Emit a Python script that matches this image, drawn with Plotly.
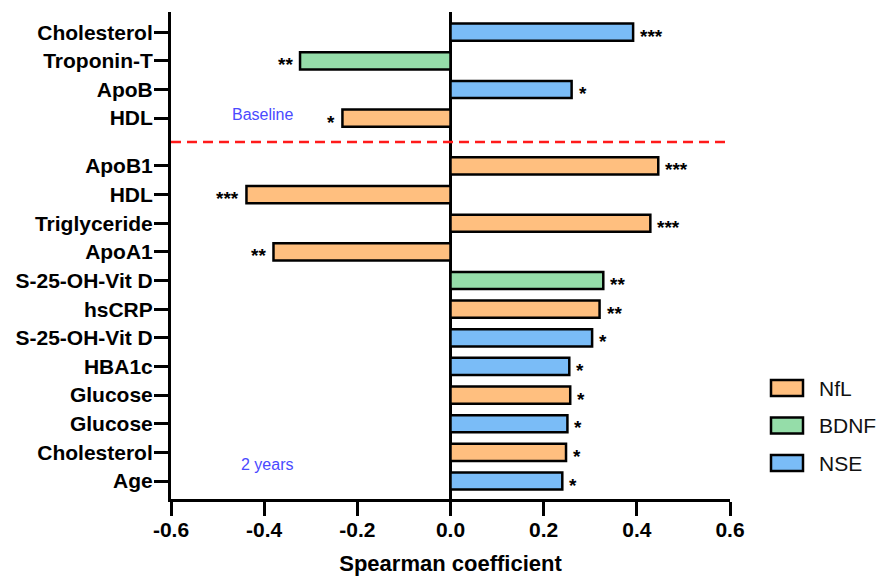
import plotly.graph_objects as go

# ---------------- data ----------------
series_names = ["NfL", "BDNF", "NSE"]
series_colors = ["#FFBF7F", "#95DDA9", "#7ABCF7"]

baseline_labels = ["Cholesterol", "Troponin-T", "ApoB", "HDL"]
baseline_series = ["NSE", "BDNF", "NSE", "NfL"]
baseline_values = [0.392, -0.323, 0.260, -0.232]
baseline_stars = ["***", "**", "*", "*"]

year2_labels = ["ApoB1", "HDL", "Triglyceride", "ApoA1", "S-25-OH-Vit D", "hsCRP",
                "S-25-OH-Vit D", "HBA1c", "Glucose", "Glucose", "Cholesterol", "Age"]
year2_series = ["NfL", "NfL", "NfL", "NfL", "BDNF", "NfL",
                "NSE", "NSE", "NfL", "NSE", "NfL", "NSE"]
year2_values = [0.446, -0.438, 0.429, -0.380, 0.328, 0.320,
                0.304, 0.255, 0.257, 0.251, 0.248, 0.240]
year2_stars = ["***", "***", "***", "**", "**", "**", "*", "*", "*", "*", "*", "*"]

x_ticks = [-0.6, -0.4, -0.2, 0.0, 0.2, 0.4, 0.6]
x_tick_text = ["-0.6", "-0.4", "-0.2", "0.0", "0.2", "0.4", "0.6"]

# ---------------- layout helpers ----------------
GAP = 1.67
n2 = len(year2_labels)
nb = len(baseline_labels)
year2_pos = [n2 - 1 - i for i in range(n2)]
baseline_pos = [n2 - 1 + GAP + (nb - 1 - i) for i in range(nb)]
divider_y = n2 - 1 + 0.84

labels = baseline_labels + year2_labels
series = baseline_series + year2_series
values = baseline_values + year2_values
stars = baseline_stars + year2_stars
positions = baseline_pos + year2_pos

FONT = "Liberation Sans, Arial, sans-serif"

fig = go.Figure()
for name, color in zip(series_names, series_colors):
    xs = [v for v, s in zip(values, series) if s == name]
    ys = [p for p, s in zip(positions, series) if s == name]
    fig.add_trace(go.Bar(
        x=xs, y=ys, orientation="h", name=name, width=0.6,
        marker=dict(color=color, line=dict(color="black", width=2.5)),
        showlegend=False, hoverinfo="x+name",
    ))

annotations = []
for v, p, st in zip(values, positions, stars):
    annotations.append(dict(
        x=v, y=p, xref="x", yref="y", text=st, showarrow=False,
        xanchor="left" if v > 0 else "right", xshift=5 if v > 0 else -5,
        yshift=-4, font=dict(family=FONT, size=19, color="black", weight="bold"),
    ))

# group annotations
annotations.append(dict(x=-0.403, y=12.78, xref="x", yref="y", text="Baseline",
                        showarrow=False, font=dict(family=FONT, size=16, color="#4A4AFF")))
annotations.append(dict(x=-0.394, y=0.56, xref="x", yref="y", text="2 years",
                        showarrow=False, font=dict(family=FONT, size=16, color="#4A4AFF")))

# manual legend
L, R, T, B = 171, 730, 12, 499
def px_x(px):
    return (px - L) / (R - L)
def px_y(py):
    return (B - py) / (B - T)

shapes = [dict(type="line", xref="paper", yref="y", x0=0, x1=1, y0=divider_y, y1=divider_y,
               line=dict(color="#FF1A1A", width=2.5, dash="10px,6px"))]
for i, (name, color) in enumerate(zip(series_names, series_colors)):
    cy = 388 + i * 37.5
    shapes.append(dict(type="rect", xref="paper", yref="paper",
                       x0=px_x(771), x1=px_x(803), y0=px_y(cy + 8), y1=px_y(cy - 8),
                       fillcolor=color, line=dict(color="black", width=2.5)))
    annotations.append(dict(x=px_x(817), y=px_y(cy), xref="paper", yref="paper", text=name,
                            showarrow=False, xanchor="left", yanchor="middle",
                            font=dict(family=FONT, size=21, color="#111")))

fig.update_layout(
    width=878, height=576,
    margin=dict(l=L, r=878 - R, t=T, b=576 - B),
    plot_bgcolor="white", paper_bgcolor="white",
    barmode="overlay",
    annotations=annotations, shapes=shapes,
    xaxis=dict(
        range=[-0.6, 0.6], tickvals=x_ticks, ticktext=x_tick_text, automargin=False,
        showgrid=False, zeroline=True, zerolinecolor="black", zerolinewidth=3,
        showline=True, linecolor="black", linewidth=3, ticklabelstandoff=-4,
        ticks="outside", ticklen=14, tickwidth=3, tickcolor="black",
        tickfont=dict(family=FONT, size=21, color="black", weight="bold"),
        title=dict(text="<b>Spearman coefficient</b>", standoff=16,
                   font=dict(family=FONT, size=22, color="black")),
    ),
    yaxis=dict(
        range=[-0.628, 16.375], tickvals=positions, ticktext=labels, automargin=False,
        showgrid=False, zeroline=False, ticklabelstandoff=-3,
        showline=True, linecolor="black", linewidth=3,
        ticks="outside", ticklen=14, tickwidth=3, tickcolor="black",
        tickfont=dict(family=FONT, size=21, color="black", weight="bold"),
    ),
)

fig.write_html("out.html", config={"displayModeBar": False},
               post_script="document.body.style.margin='0';")
